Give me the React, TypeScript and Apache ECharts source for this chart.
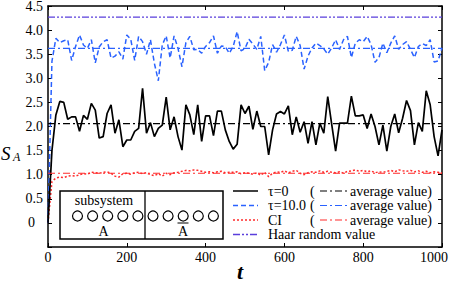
import React, { useEffect, useRef } from "react";
import * as echarts from "echarts";

// ---- data ----
const T_STEP = 10; // time step between samples
const tau0: number[] = [
  0, 1.5, 2.24, 2.52, 2.5, 2.15, 2.2, 2.2, 1.9, 2.23,
  2.15, 2.48, 2.34, 1.76, 1.79, 2.27, 2.45, 1.86, 2.14, 1.58,
  1.72, 1.72, 1.9, 1.96, 2.79, 1.86, 2.08, 1.79, 1.96, 2.03,
  2.61, 1.93, 2.2, 1.79, 1.51, 2.45, 2.24, 1.83, 2.45, 1.69,
  2.22, 2.22, 1.81, 2.32, 2.32, 1.93, 1.69, 1.53, 1.63, 2.45,
  2.27, 2.42, 1.94, 2.32, 2.0, 2.0, 1.41, 1.93, 2.26, 2.31,
  2.26, 2.43, 1.83, 2.2, 1.88, 2.1, 1.65, 2.1, 1.62, 2.07,
  1.86, 2.62, 2.05, 1.49, 2.07, 2.07, 2.07, 2.63, 2.22, 2.22,
  2.24, 1.96, 2.26, 2.0, 1.62, 2.03, 1.49, 2.0, 2.26, 1.87,
  2.17, 2.54, 2.33, 1.62, 2.08, 1.9, 2.74, 2.45, 1.79, 1.39,
  1.93,
];
const tau10: number[] = [
  0, 3.35, 3.83, 3.74, 3.78, 3.8, 3.37, 3.66, 3.9, 3.69,
  3.62, 3.8, 3.32, 3.65, 3.76, 3.8, 3.42, 3.46, 3.55, 3.4,
  3.9, 3.81, 3.37, 3.87, 3.76, 3.5, 3.8, 3.31, 2.95, 3.69,
  3.88, 3.42, 3.88, 3.62, 3.24, 3.74, 3.87, 3.59, 3.6, 3.52,
  3.66, 3.74, 3.88, 3.52, 3.67, 3.66, 3.52, 3.66, 3.97, 3.57,
  3.62, 3.81, 3.71, 3.6, 3.87, 3.16, 3.33, 3.7, 3.54, 3.7,
  3.9, 3.56, 3.58, 3.87, 3.68, 3.19, 3.46, 3.63, 3.73, 3.68,
  3.61, 3.5, 3.63, 3.8, 3.6, 3.8, 3.87, 3.43, 3.73, 3.8,
  3.76, 3.87, 3.7, 3.33, 3.43, 3.73, 3.53, 3.73, 3.88, 3.6,
  3.7, 3.76, 3.6, 3.43, 3.66, 3.72, 3.68, 3.8, 3.34, 3.36,
  3.63,
];
const ciVals: number[] = [
  0, 0.86, 0.93, 0.95, 0.94, 0.97, 0.98, 0.97, 1.0, 1.02,
  1.01, 1.05, 1.04, 1.03, 1.05, 1.06, 1.03, 0.97, 0.95, 1.02,
  1.03, 1.01, 1.04, 1.05, 1.02, 1.04, 1.0, 0.98, 1.02, 0.97,
  1.03, 1.0, 1.04, 1.05, 1.07, 1.09, 1.08, 1.1, 1.09, 1.07,
  1.05, 1.06, 1.04, 1.06, 1.07, 1.04, 1.05, 1.05, 1.06, 1.02,
  1.04, 1.03, 1.01, 1.04, 0.99, 1.05, 0.96, 1.03, 1.06, 1.05,
  1.08, 1.04, 1.07, 1.09, 1.03, 1.0, 1.04, 1.06, 1.05, 1.08,
  1.05, 1.07, 1.05, 1.04, 1.06, 1.03, 1.07, 1.08, 1.1, 1.07,
  1.09, 1.06, 1.08, 1.04, 1.06, 1.05, 1.07, 1.09, 1.06, 1.1,
  1.08, 1.07, 1.09, 1.06, 1.08, 1.05, 1.07, 1.04, 1.06, 1.05,
  1.04,
];
const avgTau0 = 2.06;
const avgTau10 = 3.62;
const avgCI = 1.03;
const haarValue = 4.27;
const tMin = 0;
const tMax = 1000;
const yMin = -0.5;
const yMax = 4.5;
const legendLabels = ["τ=0", "τ=10.0", "CI", "Haar random value"];
const avgLabel = "average value)";

// ---- styles ----
const FONT = "'Liberation Serif', serif";
const BLACK = "#000000";
const BLUE = "#2a62ff";
const RED = "#ff2b2b";
const PURPLE = "#5a3fdc";
const DASH_BLUE = [5, 3];
const DOT_RED = [2, 2];
const DASHDOT = [7, 3, 2, 3];
const DASHDOTDOT = [7, 2, 2, 2, 2, 2];

const pairs = (vals: number[]) => vals.map((v, i) => [i * T_STEP, v]);
const flat = (v: number) => [
  [tMin, v],
  [tMax, v],
];

function staticGraphics() {
  const legendRowsY = [191, 205.5, 220, 234.5];
  const legendDefs = [
    { color: BLACK, dash: null, avgDash: DASHDOT },
    { color: BLUE, dash: DASH_BLUE, avgDash: DASHDOT },
    { color: RED, dash: DOT_RED, avgDash: DASHDOT },
    { color: PURPLE, dash: DASHDOTDOT, avgDash: null },
  ];
  const g: any[] = [];
  const txt = (x: number, y: number, text: string, extra: any = {}, z = 100) => ({
    type: "text",
    x,
    y,
    z,
    style: { text, fontFamily: FONT, fontSize: 14, fill: BLACK, verticalAlign: "middle", ...extra },
  });
  legendDefs.forEach((d, k) => {
    const y = legendRowsY[k];
    g.push({
      type: "line",
      shape: { x1: 233, y1: y, x2: 258, y2: y },
      style: { stroke: d.color, lineWidth: 1.5, lineDash: d.dash || undefined },
      z: 100,
    });
    g.push(txt(268, y, legendLabels[k]));
    if (d.avgDash) {
      g.push(txt(310, y, "("));
      g.push({
        type: "line",
        shape: { x1: 320, y1: y, x2: 348, y2: y },
        style: { stroke: d.color, lineWidth: 1.2, lineDash: d.avgDash },
        z: 100,
      });
      g.push(txt(350, y, avgLabel));
    }
  });

  // inset: subsystem diagram
  g.push({
    type: "rect",
    shape: { x: 60, y: 191, width: 163, height: 48 },
    style: { stroke: BLACK, lineWidth: 1.5, fill: "#ffffff" },
    z: 90,
  });
  g.push({
    type: "line",
    shape: { x1: 145, y1: 191, x2: 145, y2: 239 },
    style: { stroke: BLACK, lineWidth: 1.3 },
    z: 91,
  });
  g.push(txt(104, 200, "subsystem", { align: "center" }, 92));
  for (let k = 0; k < 10; k++) {
    g.push({
      type: "circle",
      shape: { cx: 77.5 + 15.1 * k, cy: 216, r: 5 },
      style: { stroke: BLACK, lineWidth: 1.2, fill: "#ffffff" },
      z: 92,
    });
  }
  g.push(txt(103.5, 231, "A", { align: "center" }, 92));
  g.push(txt(183, 231, "A", { align: "center" }, 92));
  g.push({
    type: "line",
    shape: { x1: 177.5, y1: 223, x2: 188.5, y2: 223 },
    style: { stroke: BLACK, lineWidth: 1 },
    z: 92,
  });

  // y axis name S_A
  g.push(txt(1, 153, "S", { fontSize: 19, fontStyle: "italic" }, 10));
  g.push(txt(13, 157, "A", { fontSize: 12, fontStyle: "italic" }, 10));
  return g;
}

function buildOption() {
  const lineSeries = (name: string, data: any, color: string, type: any, width: number, z = 2) => ({
    name,
    type: "line",
    data,
    symbol: "none",
    showSymbol: false,
    silent: true,
    z,
    lineStyle: { color, width, type },
  });

  const axisLineStyle = { color: BLACK, width: 1.5 };
  const tickStyle = { show: true, inside: true, length: 4, lineStyle: { color: BLACK, width: 1 } };
  const richBase = { fontFamily: FONT, fontSize: 14, color: BLACK };

  return {
    animation: false,
    backgroundColor: "#ffffff",
    textStyle: { fontFamily: FONT, color: BLACK },
    grid: { left: 48, right: 7, top: 6, bottom: 38, containLabel: false, outerBoundsMode: "none" },
    xAxis: [
      {
        type: "value",
        min: tMin,
        max: tMax,
        interval: 200,
        position: "bottom",
        axisLine: { show: true, onZero: false, lineStyle: axisLineStyle },
        axisTick: tickStyle,
        splitLine: { show: false },
        axisLabel: {
          color: BLACK,
          fontFamily: FONT,
          fontSize: 14,
          margin: 3,
          formatter: (v: number) => (v === tMax ? "{m|" + v + "}" : "{a|" + v + "}"),
          rich: { a: { ...richBase }, m: { ...richBase, padding: [0, 16, 0, 0] } },
        },
        name: "t",
        nameLocation: "middle",
        nameGap: 13,
        nameMoveOverlap: false,
        nameTextStyle: {
          color: BLACK,
          fontFamily: FONT,
          fontSize: 22,
          fontStyle: "italic",
          fontWeight: "bold",
          padding: [0, 10, 0, 0],
        },
      },
      {
        type: "value",
        min: tMin,
        max: tMax,
        interval: 200,
        position: "top",
        axisLine: { show: true, onZero: false, lineStyle: axisLineStyle },
        axisTick: tickStyle,
        splitLine: { show: false },
        axisLabel: { show: false },
      },
    ],
    yAxis: [
      {
        type: "value",
        min: yMin,
        max: yMax,
        interval: 0.5,
        position: "left",
        axisLine: { show: true, onZero: false, lineStyle: axisLineStyle },
        axisTick: tickStyle,
        splitLine: { show: false },
        axisLabel: {
          color: BLACK,
          fontFamily: FONT,
          fontSize: 14,
          margin: 5,
          formatter: (v: number) => (v < 0 ? "" : v === 0 ? "{z|0}" : "{a|" + v.toFixed(1) + "}"),
          rich: { a: { ...richBase }, z: { ...richBase, padding: [0, 8, 0, 0] } },
        },
      },
      {
        type: "value",
        min: yMin,
        max: yMax,
        interval: 0.5,
        position: "right",
        axisLine: { show: true, onZero: false, lineStyle: axisLineStyle },
        axisTick: tickStyle,
        splitLine: { show: false },
        axisLabel: { show: false },
      },
    ],
    series: [
      lineSeries("Haar random value", flat(haarValue), PURPLE, DASHDOTDOT, 1.2, 1),
      lineSeries("CI average", flat(avgCI), RED, DASHDOT, 1.2, 3),
      lineSeries("τ=10.0 average", flat(avgTau10), BLUE, DASHDOT, 1.2, 3),
      lineSeries("τ=0 average", flat(avgTau0), BLACK, DASHDOT, 1.2, 3),
      lineSeries("CI", pairs(ciVals), RED, DOT_RED, 1.5, 2),
      lineSeries("τ=10.0", pairs(tau10), BLUE, DASH_BLUE, 1.5, 2),
      lineSeries("τ=0", pairs(tau0), BLACK, "solid", 1.7, 2),
    ],
    graphic: staticGraphics(),
  };
}

export default function App() {
  const ref = useRef<HTMLDivElement>(null);
  useEffect(() => {
    if (!ref.current) return;
    const chart = echarts.init(ref.current, undefined, { renderer: "svg" });
    chart.setOption(buildOption() as any);
    return () => chart.dispose();
  }, []);
  return <div ref={ref} style={{ width: 449, height: 285, position: "absolute", left: 0, top: 0 }} />;
}
